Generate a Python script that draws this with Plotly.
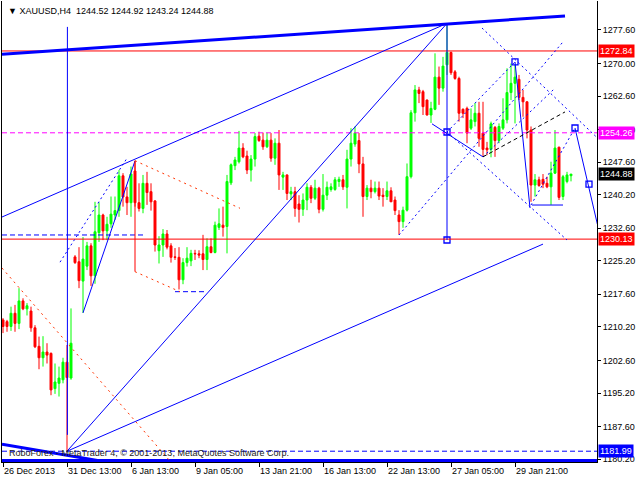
import plotly.graph_objects as go

# ---------------- data ----------------
bar_open = [1211.8, 1211.4, 1210.3, 1213.3, 1211.0, 1216.1, 1214.3, 1213.8, 1210.0, 1205.8,
            1203.2, 1204.5, 1204.2, 1196.2, 1197.4, 1198.2, 1202.2, 1198.6, 1226.1, 1225.0,
            1220.6, 1224.0, 1228.6, 1221.8, 1231.6, 1235.6, 1232.0, 1233.6, 1235.6, 1236.6,
            1244.5, 1239.7, 1238.4, 1245.6, 1238.4, 1237.1, 1242.8, 1240.9, 1238.8, 1227.5,
            1228.8, 1231.3, 1228.6, 1226.1, 1226.0, 1220.9, 1224.8, 1225.2, 1226.9, 1226.8,
            1226.8, 1225.5, 1228.4, 1227.1, 1232.8, 1233.3, 1233.0, 1242.9, 1246.8, 1247.7,
            1250.8, 1249.0, 1245.8, 1248.3, 1253.5, 1252.6, 1251.1, 1252.6, 1248.5, 1251.9,
            1244.2, 1244.7, 1240.4, 1240.9, 1238.1, 1236.9, 1239.0, 1241.9, 1239.4, 1241.7,
            1236.9, 1240.1, 1241.4, 1241.4, 1243.2, 1243.6, 1241.9, 1248.3, 1251.7, 1252.5,
            1247.2, 1239.8, 1241.7, 1240.9, 1241.7, 1240.1, 1239.8, 1241.1, 1239.0, 1235.6,
            1234.1, 1236.7, 1244.3, 1258.8, 1264.0, 1263.6, 1261.7, 1258.3, 1259.6, 1266.9,
            1264.4, 1269.7, 1272.5, 1268.1, 1266.6, 1259.6, 1259.8, 1255.3, 1256.8, 1258.7,
            1254.2, 1250.8, 1250.5, 1255.5, 1252.5, 1255.3, 1257.2, 1263.4, 1265.5, 1266.4,
            1262.3, 1261.3, 1254.9, 1242.4, 1243.6, 1243.7, 1242.8, 1242.0, 1245.1, 1251.0,
            1239.8, 1243.2, 1244.52]
bar_high = [1212.2, 1211.8, 1214.8, 1215.2, 1219.0, 1216.7, 1215.6, 1214.8, 1210.6, 1208.0,
            1208.1, 1206.5, 1204.4, 1201.9, 1201.2, 1203.2, 1206.1, 1214.4, 1226.5, 1228.3,
            1230.6, 1229.5, 1229.2, 1238.6, 1238.5, 1235.9, 1235.2, 1239.8, 1239.8, 1245.8,
            1245.1, 1242.0, 1246.6, 1247.9, 1242.8, 1244.7, 1245.4, 1242.8, 1239.0, 1230.8,
            1232.4, 1232.2, 1229.2, 1228.1, 1228.3, 1225.8, 1228.3, 1227.7, 1227.7, 1227.6,
            1231.1, 1230.3, 1230.3, 1234.1, 1237.1, 1237.5, 1244.7, 1247.3, 1248.8, 1254.7,
            1251.9, 1250.2, 1249.2, 1254.2, 1254.5, 1254.3, 1254.3, 1254.2, 1253.0, 1254.9,
            1245.4, 1244.8, 1242.0, 1242.0, 1240.1, 1240.5, 1242.8, 1242.4, 1243.6, 1242.0,
            1244.9, 1243.2, 1242.8, 1244.2, 1244.3, 1244.7, 1250.4, 1255.3, 1255.7, 1254.2,
            1248.8, 1242.4, 1243.6, 1243.2, 1243.2, 1241.7, 1243.2, 1241.9, 1239.8, 1236.7,
            1237.5, 1247.3, 1259.4, 1265.1, 1264.7, 1264.0, 1261.8, 1261.3, 1272.3, 1269.3,
            1271.5, 1279.1, 1272.7, 1268.5, 1267.0, 1259.8, 1260.2, 1259.8, 1261.0, 1261.3,
            1261.3, 1252.2, 1256.8, 1255.8, 1256.4, 1262.1, 1268.9, 1270.0, 1270.4, 1267.4,
            1264.0, 1261.4, 1255.7, 1244.9, 1244.3, 1244.9, 1244.3, 1247.7, 1254.9, 1251.1,
            1244.7, 1245.4, 1244.92]
bar_low = [1208.8, 1209.1, 1209.3, 1209.1, 1209.7, 1214.0, 1212.8, 1209.1, 1205.4, 1200.6,
           1201.2, 1201.9, 1194.7, 1195.0, 1194.4, 1197.4, 1181.99, 1198.2, 1224.5, 1219.0,
           1213.4, 1223.1, 1219.5, 1220.0, 1229.5, 1229.9, 1229.9, 1232.7, 1234.5, 1235.2,
           1237.5, 1235.6, 1235.2, 1237.5, 1236.4, 1236.0, 1237.9, 1236.6, 1227.3, 1224.6,
           1226.1, 1227.8, 1224.8, 1225.4, 1218.7, 1219.9, 1223.9, 1224.0, 1225.4, 1225.8,
           1223.1, 1223.1, 1226.9, 1226.9, 1232.2, 1230.7, 1226.9, 1242.4, 1245.8, 1247.3,
           1248.5, 1244.9, 1243.2, 1246.6, 1252.2, 1250.4, 1250.8, 1247.7, 1247.0, 1241.3,
           1241.3, 1239.0, 1239.0, 1235.2, 1233.9, 1235.4, 1236.7, 1238.3, 1239.0, 1236.0,
           1236.4, 1239.0, 1240.9, 1241.1, 1242.0, 1241.3, 1237.1, 1246.6, 1251.1, 1245.1,
           1235.2, 1239.0, 1239.4, 1240.5, 1239.0, 1237.5, 1239.0, 1238.6, 1235.6, 1231.1,
           1232.7, 1236.4, 1243.9, 1256.8, 1261.0, 1258.3, 1258.2, 1256.5, 1259.4, 1260.6,
           1263.6, 1267.4, 1267.4, 1266.3, 1256.8, 1257.6, 1251.9, 1254.9, 1255.7, 1251.1,
           1248.8, 1249.2, 1248.7, 1248.8, 1251.9, 1254.9, 1256.4, 1261.7, 1256.4, 1261.7,
           1257.9, 1253.0, 1238.6, 1239.8, 1242.0, 1241.7, 1241.7, 1237.9, 1244.9, 1239.0,
           1239.0, 1242.8, 1243.24]
bar_close = [1210.3, 1210.3, 1213.3, 1211.0, 1216.1, 1214.3, 1215.0, 1210.0, 1205.7, 1203.2,
             1204.5, 1203.8, 1195.9, 1197.7, 1198.6, 1202.2, 1198.7, 1206.5, 1224.8, 1220.7,
             1225.6, 1228.6, 1221.8, 1231.8, 1235.6, 1232.0, 1233.5, 1235.8, 1236.6, 1244.5,
             1239.7, 1238.4, 1244.9, 1238.4, 1237.1, 1242.8, 1240.7, 1238.6, 1228.8, 1228.8,
             1231.3, 1228.3, 1226.0, 1226.0, 1220.9, 1224.8, 1225.8, 1226.9, 1226.8, 1226.5,
             1225.5, 1228.4, 1227.1, 1233.3, 1233.6, 1232.8, 1243.2, 1247.0, 1248.1, 1250.8,
             1248.8, 1245.8, 1248.3, 1253.4, 1252.5, 1251.1, 1252.6, 1248.5, 1251.9, 1244.7,
             1244.7, 1240.5, 1240.9, 1237.1, 1236.9, 1239.0, 1241.9, 1239.4, 1241.7, 1236.9,
             1240.1, 1241.9, 1242.0, 1243.6, 1243.7, 1242.0, 1248.3, 1251.9, 1254.2, 1247.2,
             1239.8, 1241.7, 1240.9, 1241.7, 1239.9, 1239.8, 1241.1, 1238.6, 1236.6, 1234.1,
             1236.7, 1244.3, 1258.8, 1264.0, 1263.2, 1260.2, 1258.3, 1259.8, 1266.9, 1264.4,
             1269.4, 1272.5, 1267.9, 1266.6, 1258.7, 1258.7, 1254.2, 1257.2, 1258.7, 1253.0,
             1250.5, 1250.4, 1256.3, 1252.5, 1255.7, 1257.2, 1263.4, 1265.5, 1266.9, 1262.3,
             1261.3, 1254.9, 1242.4, 1243.6, 1242.3, 1242.6, 1242.0, 1245.1, 1250.8, 1239.6,
             1244.3, 1244.7, 1244.88]
bar_index = list(range(len(bar_open)))

x_tick_bars = [0, 16, 32, 48, 64, 80, 96, 112, 128]
x_tick_labels = ["26 Dec 2013", "31 Dec 13:00", "6 Jan 13:00", "9 Jan 05:00", "13 Jan 21:00",
                 "16 Jan 13:00", "22 Jan 13:00", "27 Jan 05:00", "29 Jan 21:00"]
y_tick_values = [1277.60, 1270.00, 1262.60, 1255.00, 1247.60, 1240.20, 1232.60,
                 1225.20, 1217.60, 1210.20, 1202.60, 1195.20, 1187.60, 1180.20]

title_text = "XAUUSD,H4\u00a0\u00a01244.52 1244.92 1243.24 1244.88"
copyright_text = "RoboForex - MetaTrader 4, © 2001-2013, MetaQuotes Software Corp."

red_levels = [1272.84, 1230.13]
magenta_level = 1254.26
blue_level = 1181.99
last_price = 1244.88

# drawn objects: (bar0, price0, bar1, price1)
thick_blue_lines = [(-0.25, 1272.08, 140.5, 1280.78), (-0.25, 1183.6, 30.0, 1178.9)]
solid_blue_lines = [(16, 1181.99, 111, 1279.1), (-0.25, 1235.15, 111, 1279.1),
                    (16, 1181.99, 135, 1229.0), (20, 1213.4, 33, 1247.9),
                    (16.1, 1278.3, 16.1, 1185.7), (111, 1279.0, 111, 1229.93),
                    (107.25, 1256.3, 120, 1248.8), (128, 1270.34, 131.75, 1237.2),
                    (132.25, 1237.87, 140, 1237.87), (143, 1255.35, 148.6, 1233.5)]
dotted_blue_lines = [(14.25, 1224.9, 31, 1248.5), (111, 1254.45, 141, 1229.93),
                     (119.75, 1278.05, 148.6, 1253.1), (99, 1231.07, 140, 1274.9),
                     (120, 1248.8, 138, 1264.4), (111, 1254.45, 128, 1270.34),
                     (132, 1237.87, 143, 1255.35)]
dashed_blue_lines = [(-0.25, 1231.07, 35, 1231.07), (43, 1218.2, 51, 1218.2)]
solid_red_lines = [(33, 1247.93, 33, 1222.74)]
dotted_red_lines = [(33, 1247.93, 59.25, 1237.13), (33, 1222.74, 44.25, 1218.2),
                    (-0.25, 1223.57, 41.75, 1179.76)]
dashed_black_lines = [(120, 1248.8, 140.5, 1259.0)]
marker_bars = [111, 111, 128, 143, 146.5]
marker_prices = [1254.45, 1229.93, 1270.34, 1255.35, 1242.6]

# ---------------- figure ----------------
FONT = "Liberation Sans, Arial, sans-serif"
BLUE = "#0000ff"

fig = go.Figure()
fig.add_trace(go.Candlestick(
    x=bar_index, open=bar_open, high=bar_high, low=bar_low, close=bar_close,
    increasing=dict(line=dict(color="#00ff00", width=1), fillcolor="#00ff00"),
    decreasing=dict(line=dict(color="#ff0000", width=1), fillcolor="#ff0000"),
    whiskerwidth=0, hoverinfo="skip", showlegend=False))

shapes = []

def add_lines(lines, color, width, dash):
    for (b0, p0, b1, p1) in lines:
        shapes.append(dict(type="line", xref="x", yref="y", x0=b0, y0=p0, x1=b1, y1=p1,
                           line=dict(color=color, width=width, dash=dash)))

for p in red_levels:
    shapes.append(dict(type="line", xref="paper", yref="y", x0=0, x1=1, y0=p, y1=p,
                       line=dict(color="#ff0000", width=1)))
shapes.append(dict(type="line", xref="paper", yref="y", x0=0, x1=1, y0=magenta_level,
                   y1=magenta_level, line=dict(color="#ff00ff", width=1, dash="5px,3px")))
shapes.append(dict(type="line", xref="paper", yref="y", x0=0, x1=1, y0=blue_level,
                   y1=blue_level, line=dict(color=BLUE, width=1, dash="5px,3px")))
shapes.append(dict(type="line", xref="paper", yref="paper", x0=0, x1=1, y0=0.003, y1=0.003,
                   line=dict(color=BLUE, width=3)))

add_lines(thick_blue_lines, BLUE, 3, "solid")
add_lines(solid_blue_lines, BLUE, 1, "solid")
add_lines(dotted_blue_lines, BLUE, 1, "2px,3px")
add_lines(dashed_blue_lines, BLUE, 1, "5px,3px")
add_lines(solid_red_lines, "#ff0000", 1, "solid")
add_lines(dotted_red_lines, "#ff3300", 1, "2px,4px")
add_lines(dashed_black_lines, "#000000", 1, "4px,3px")

fig.add_trace(go.Scatter(x=marker_bars, y=marker_prices, mode="markers",
                         marker=dict(symbol="square", size=6, color="white",
                                     line=dict(color=BLUE, width=1.3)),
                         hoverinfo="skip", showlegend=False))

annotations = [
    dict(xref="paper", yref="paper", x=0, y=1, xanchor="left", yanchor="top",
         xshift=4, yshift=-3, showarrow=False, text="▼ " + title_text,
         font=dict(family=FONT, size=9, color="#000000")),
    dict(xref="paper", yref="paper", x=0, y=0, xanchor="left", yanchor="bottom",
         xshift=5, yshift=2, showarrow=False, text=copyright_text,
         font=dict(family=FONT, size=9, color="#222222")),
]
price_boxes = [(red_levels[0], "#ff0000"), (magenta_level, "#ff00ff"),
               (last_price, "#000000"), (red_levels[1], "#ff0000"), (blue_level, BLUE)]
for p, c in price_boxes:
    annotations.append(dict(xref="paper", yref="y", x=1, y=p, xanchor="left", yanchor="middle",
                            xshift=1, showarrow=False, text=f"{p:.2f}", bgcolor=c,
                            borderpad=1, font=dict(family=FONT, size=9, color="#ffffff")))

fig.update_layout(
    width=640, height=480,
    margin=dict(l=2, r=43, t=1, b=18, autoexpand=False),
    paper_bgcolor="white", plot_bgcolor="white",
    shapes=shapes, annotations=annotations, showlegend=False,
    xaxis=dict(range=[-0.25, 148.5], rangeslider=dict(visible=False),
               tickmode="array", tickvals=x_tick_bars, ticktext=x_tick_labels,
               ticks="outside", ticklen=4, tickcolor="#000000",
               ticklabelposition="outside right", automargin=False,
               showline=True, linecolor="#000000", linewidth=1,
               showgrid=False, zeroline=False,
               tickfont=dict(family=FONT, size=9, color="#000000")),
    yaxis=dict(range=[1179.54, 1284.18], side="right", automargin=False,
               tickmode="array", tickvals=y_tick_values,
               ticktext=[f"{v:.2f}" for v in y_tick_values],
               ticks="outside", ticklen=3, tickcolor="#000000",
               showline=True, mirror=True, linecolor="#000000", linewidth=1,
               showgrid=False, zeroline=False,
               tickfont=dict(family=FONT, size=9, color="#000000")),
)

fig.write_html("out.html", config={"displayModeBar": False},
               post_script="document.body.style.margin='0px';document.body.style.padding='0px';")
